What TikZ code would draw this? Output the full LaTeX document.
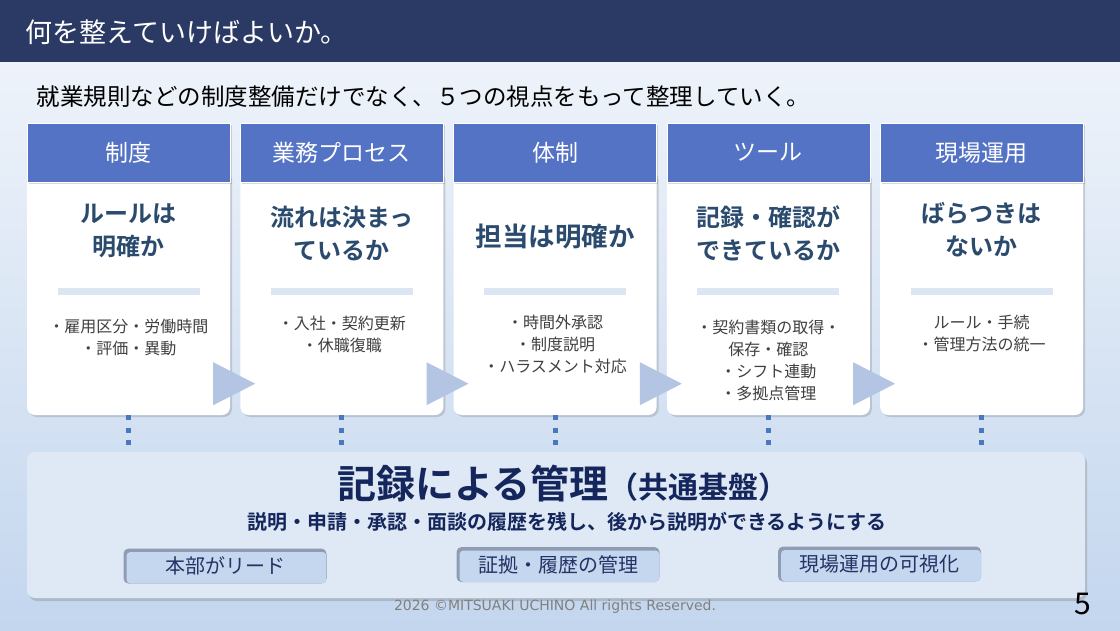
\documentclass[tikz,border=0pt]{standalone}
\usepackage{fontspec}
\setmainfont{Noto Sans CJK JP}[BoldFont={* Bold}]
\newfontfamily\footfont{DejaVu Sans}
\usetikzlibrary{shadows,calc}
\definecolor{barnavy}{HTML}{2B3A64}
\definecolor{headblue}{HTML}{5573C4}
\definecolor{asknavy}{HTML}{2A4A6E}
\definecolor{itemgray}{HTML}{404040}
\definecolor{sepblue}{HTML}{DCE6F2}
\definecolor{triblue}{HTML}{B4C5E4}
\definecolor{dotblue}{HTML}{4A78BD}
\definecolor{panelfill}{HTML}{DFE9F6}
\definecolor{basenavy}{HTML}{15265C}
\definecolor{pillfill}{HTML}{C5D7EE}
\definecolor{pillshade}{HTML}{8F9DB4}
\definecolor{pilltext}{HTML}{233366}
\definecolor{bgtop}{HTML}{EEF3FA}
\definecolor{bgbot}{HTML}{C3D6EE}
\tikzset{
  cardhead/.style={fill=headblue,draw=white,line width=0.8pt,minimum width=203,minimum height=59,
    inner sep=0pt,text=white,font=\fontsize{23}{28}\selectfont,
    drop shadow={opacity=0.3,shadow xshift=1.5pt,shadow yshift=-2pt}},
  cardbody/.style={fill=white,rounded corners=8pt,minimum width=203,minimum height=245,
    drop shadow={opacity=0.3,shadow xshift=2pt,shadow yshift=-2pt}},
  ask/.style={text=asknavy,font=\bfseries\fontsize{24}{33}\selectfont,align=center,inner sep=0pt},
  items/.style={text=itemgray,font=\fontsize{16}{22}\selectfont,align=center,inner sep=0pt},
  sepbar/.style={fill=sepblue,minimum width=142,minimum height=7,inner sep=0pt},
  tri/.style={fill=triblue},
  linkdots/.style={dotblue,line width=5pt,dash pattern=on 5pt off 7.5pt},
  basebox/.style={fill=panelfill,rounded corners=8pt,minimum width=1058,minimum height=146,
    drop shadow={opacity=0.35,shadow xshift=2pt,shadow yshift=-3pt}},
  pill/.style={fill=pillshade,rounded corners=5pt,minimum width=203,minimum height=35,
    text=pilltext,font=\fontsize{20}{24}\selectfont,
    path picture={\fill[pillfill,rounded corners=4pt]
      ([xshift=3pt,yshift=-3.5pt]path picture bounding box.north west)
      rectangle (path picture bounding box.south east);}},
}
\begin{document}
\begin{tikzpicture}[x=1pt,y=-1pt]
  \useasboundingbox (0,0) rectangle (1120,630);
  % background and title bar
  \shade[top color=bgtop,bottom color=bgbot] (0,62) rectangle (1120,630);
  \fill[barnavy] (0,0) rectangle (1120,62);
  \node[anchor=west,text=white,font=\fontsize{27}{31}\selectfont] (title) at (22,32) {何を整えていけばよいか。};
  \node[anchor=west,font=\fontsize{23.5}{27}\selectfont] (lead) at (33,97)
    {就業規則などの制度整備だけでなく、５つの視点をもって整理していく。};

  % five viewpoints
  \foreach \i/\hd/\ask/\ay/\items/\iy in {
      1/制度/{ルールは\\明確か}/231/{・雇用区分・労働時間\\・評価・異動}/337,
      2/業務プロセス/{流れは決まっ\\ているか}/233/{・入社・契約更新\\・休職復職}/334,
      3/体制/{\fontsize{26.5}{33}\selectfont 担当は明確か}/237/{・時間外承認\\・制度説明\\・ハラスメント対応}/344,
      4/ツール/{記録・確認が\\できているか}/233/{・契約書類の取得・\\保存・確認\\・シフト連動\\・多拠点管理}/360,
      5/現場運用/{ばらつきは\\ないか}/230/{ルール・手続\\・管理方法の統一}/333}
  {
    \pgfmathsetmacro\cx{128.5+213.3*(\i-1)}
    \node[cardbody] (b\i) at (\cx,292.5) {};
    \node[cardhead] (h\i) at (\cx,152.5) {\hd};
    \node[ask] (q\i) at (\cx,\ay) {\ask};
    \node[sepbar] (s\i) at (\cx,291) {};
    \node[items] (t\i) at (\cx,\iy) {\items};
  }
  \foreach \i in {1,...,4}
    \fill[tri] ($(b\i.south east)+(-17,-53)$) -- ++(0,43) -- ++(42,-21.5) -- cycle;

  % common base
  \node[basebox] (base) at (556,525) {};
  \foreach \i in {1,...,5}
    \draw[linkdots] (b\i.south) -- (b\i.south |- base.north);
  \node[text=basenavy,font=\bfseries] (basehead) at (563,484)
    {{\fontsize{39}{45}\selectfont 記録による管理}{\fontsize{30}{35}\selectfont （共通基盤）}};
  \node[text=basenavy,font=\bfseries\fontsize{20}{24}\selectfont] (basesub) at (567,522)
    {説明・申請・承認・面談の履歴を残し、後から説明ができるようにする};
  \node[pill] (p1) at (225,566) {本部がリード};
  \node[pill] (p2) at (558,564.5) {証拠・履歴の管理};
  \node[pill] (p3) at (879.5,564) {現場運用の可視化};

  % footer
  \node[text=gray,font=\footfont\fontsize{14}{17}\selectfont] (copy) at (555,607)
    {2026 ©MITSUAKI UCHINO All rights Reserved.};
  \node[font=\fontsize{30}{34}\selectfont] (pageno) at (1083,604) {5};
\end{tikzpicture}
\end{document}
